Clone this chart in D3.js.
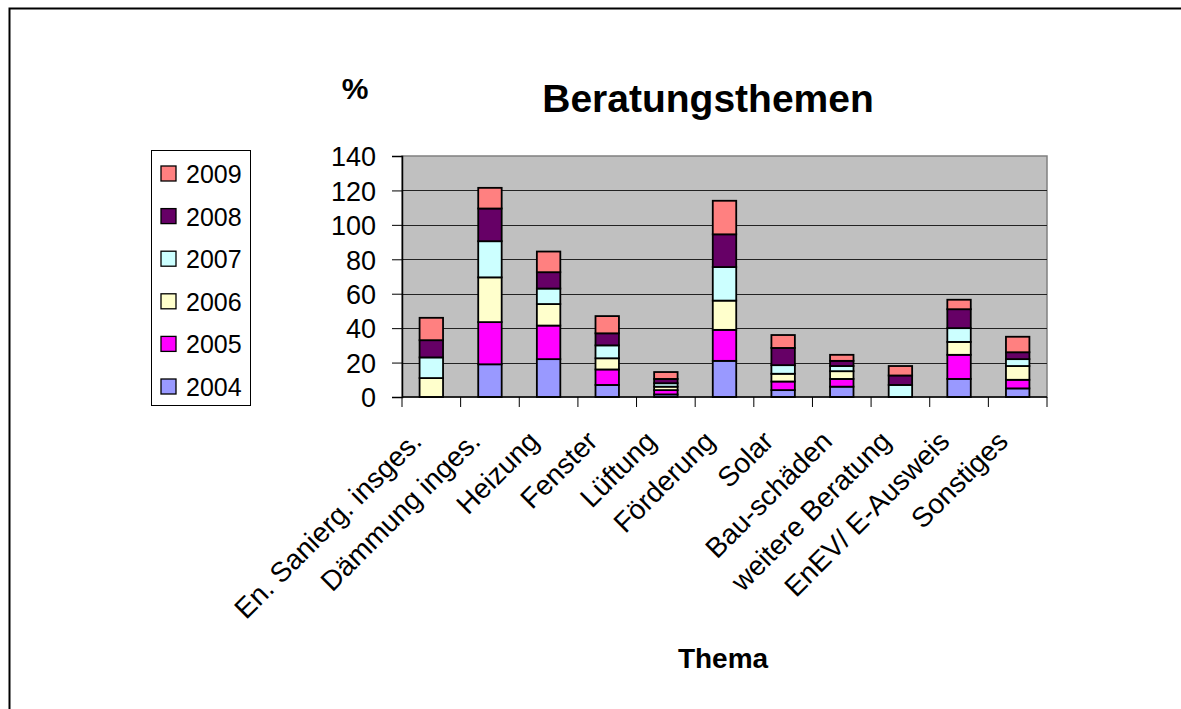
<!DOCTYPE html>
<html>
<head>
<meta charset="utf-8">
<script src="https://cdn.jsdelivr.net/npm/d3@7"></script>
<style>
  body { margin: 0; background: #fff; }
  svg { display: block; font-family: Arial, "Liberation Sans", sans-serif; }
</style>
</head>
<body>
<svg id="chart" width="1181" height="709"></svg>
<script>
const categories = ["En. Sanierg. insges.", "Dämmung inges.", "Heizung", "Fenster", "Lüftung",
  "Förderung", "Solar", "Bau-schäden", "weitere Beratung", "EnEV/ E-Ausweis", "Sonstiges"];
const years = ["2004", "2005", "2006", "2007", "2008", "2009"];
const colors = ["#9999ff", "#ff00ff", "#ffffcc", "#ccffff", "#660066", "#ff8080"];

const v2004 = [0, 19, 22, 7, 1.5, 21, 4, 6, 0, 10.5, 5];
const v2005 = [0, 24.5, 19.5, 9, 2.5, 18, 5, 4.5, 0, 14, 5];
const v2006 = [11, 26, 12.5, 6.5, 2, 17, 4.5, 4.5, 0, 7.5, 8];
const v2007 = [12, 21, 9, 7.5, 2, 19.5, 5, 3, 7, 8, 4];
const v2008 = [10, 19, 9.5, 7, 2.5, 19, 10, 3, 5.5, 11, 4];
const v2009 = [13, 12, 12, 10, 4, 19.5, 7.5, 3.5, 5.5, 5.5, 9];
const yTicks = [0, 20, 40, 60, 80, 100, 120, 140];

const series = [v2004, v2005, v2006, v2007, v2008, v2009];
const table = categories.map((c, i) => {
  const row = { cat: c };
  years.forEach((y, j) => row[y] = series[j][i]);
  return row;
});

const svg = d3.select("#chart");
const plotLeft = 402, plotRight = 1047, plotTop = 156, plotBottom = 397;

// outer frame (only top and left visible)
svg.append("path").attr("d", "M9.5,709 V8.5 H1181")
  .attr("fill", "none").attr("stroke", "#000").attr("stroke-width", 2);

const x = d3.scaleBand().domain(categories).range([plotLeft, plotRight]);
const y = d3.scaleLinear().domain([0, 140]).range([plotBottom, plotTop]);

svg.append("rect").attr("x", plotLeft).attr("y", plotTop)
  .attr("width", plotRight - plotLeft).attr("height", plotBottom - plotTop)
  .attr("fill", "#c0c0c0").attr("stroke", "#808080").attr("stroke-width", 1.5);

svg.append("g").selectAll("line").data(yTicks.filter(t => t > 0 && t < 140)).join("line")
  .attr("x1", plotLeft).attr("x2", plotRight)
  .attr("y1", d => Math.round(y(d)) + 0.5).attr("y2", d => Math.round(y(d)) + 0.5)
  .attr("stroke", "#222").attr("stroke-width", 1);

const stack = d3.stack().keys(years)(table);
const barW = x.bandwidth() * 0.4;
svg.append("g").selectAll("g").data(stack).join("g")
  .attr("fill", (d, i) => colors[i])
  .selectAll("rect").data(d => d.filter(p => p[1] - p[0] > 0)).join("rect")
  .attr("x", d => x(d.data.cat) + (x.bandwidth() - barW) / 2)
  .attr("width", barW)
  .attr("y", d => y(d[1]))
  .attr("height", d => y(d[0]) - y(d[1]))
  .attr("stroke", "#000").attr("stroke-width", 1.8);

// y axis
const yAxis = svg.append("g").attr("transform", `translate(${plotLeft},0)`)
  .call(d3.axisLeft(y).tickValues(yTicks).tickSize(10).tickPadding(16));
yAxis.select(".domain").attr("stroke", "#000").attr("stroke-width", 1.5);
yAxis.selectAll(".tick line").attr("stroke", "#000");
yAxis.selectAll("text").attr("font-size", 27).attr("fill", "#000").attr("dy", "0.36em");

// x axis
const xAxis = svg.append("g").attr("transform", `translate(0,${plotBottom})`);
xAxis.append("line").attr("x1", plotLeft).attr("x2", plotRight).attr("y1", 0).attr("y2", 0)
  .attr("stroke", "#000").attr("stroke-width", 1.5);
xAxis.selectAll("line.tk").data(categories.concat([null])).join("line").attr("class", "tk")
  .attr("x1", (d, i) => plotLeft + i * x.bandwidth()).attr("x2", (d, i) => plotLeft + i * x.bandwidth())
  .attr("y1", 0).attr("y2", 10).attr("stroke", "#000");
xAxis.selectAll("text").data(categories).join("text")
  .attr("transform", d => `translate(${x(d) + x.bandwidth() / 2 - 8},${46}) rotate(-45)`)
  .attr("text-anchor", "end").attr("font-size", 28).attr("fill", "#000")
  .text(d => d);

// titles
svg.append("text").attr("x", 708).attr("y", 112).attr("text-anchor", "middle")
  .attr("font-size", 39).attr("font-weight", "bold").text("Beratungsthemen");
svg.append("text").attr("x", 355).attr("y", 99).attr("text-anchor", "middle")
  .attr("font-size", 30).attr("font-weight", "bold").text("%");
svg.append("text").attr("x", 723).attr("y", 668).attr("text-anchor", "middle")
  .attr("font-size", 28).attr("font-weight", "bold").text("Thema");

// legend
const lg = svg.append("g");
lg.append("rect").attr("x", 151.5).attr("y", 150.5).attr("width", 99).attr("height", 255)
  .attr("fill", "#fff").attr("stroke", "#000").attr("stroke-width", 1);
const legendYears = years.slice().reverse();
const legendColors = colors.slice().reverse();
const item = lg.selectAll("g").data(legendYears).join("g")
  .attr("transform", (d, i) => `translate(0,${174 + i * 42.6})`);
item.append("rect").attr("x", 161).attr("y", -8).attr("width", 15).attr("height", 15)
  .attr("fill", (d, i) => legendColors[i]).attr("stroke", "#000").attr("stroke-width", 1.3);
item.append("text").attr("x", 186).attr("y", 0).attr("dy", "0.36em")
  .attr("font-size", 25).text(d => d);
</script>
</body>
</html>
